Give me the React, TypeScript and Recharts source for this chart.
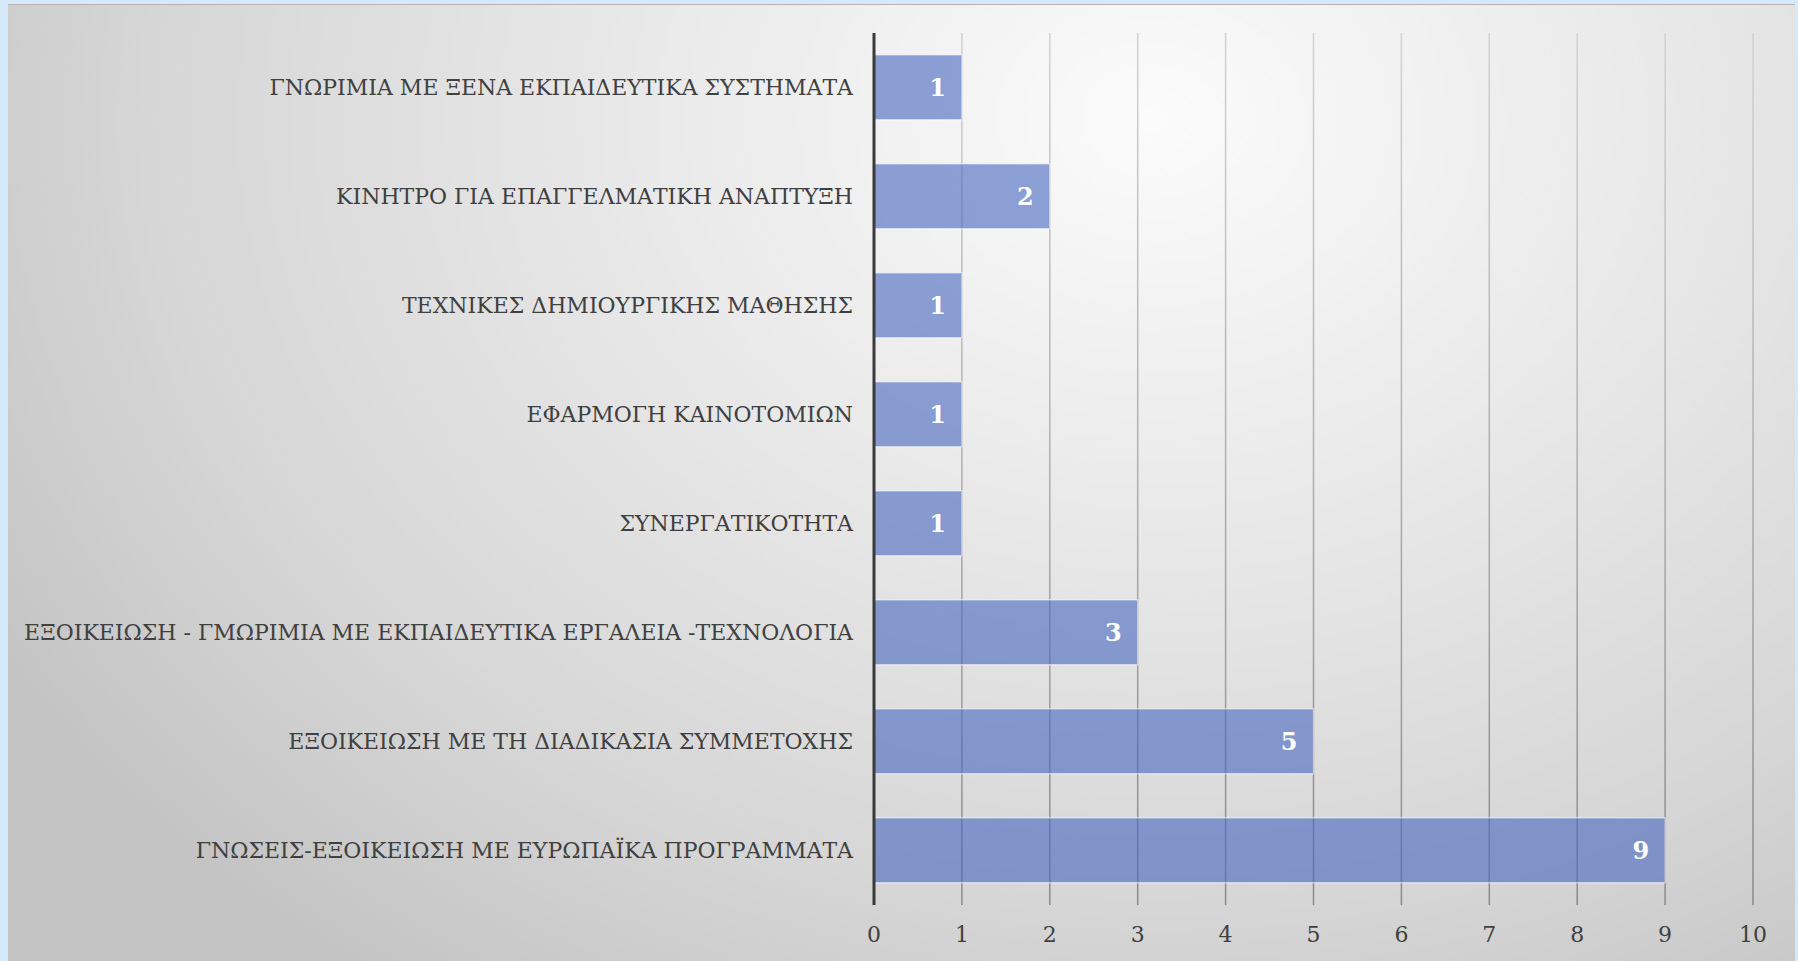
import { BarChart, Bar, XAxis, YAxis, CartesianGrid, LabelList } from 'recharts'

// categories, top to bottom
const categories = [
  'ΓΝΩΡΙΜΙΑ ΜΕ ΞΕΝΑ ΕΚΠΑΙΔΕΥΤΙΚΑ ΣΥΣΤΗΜΑΤΑ',
  'ΚΙΝΗΤΡΟ ΓΙΑ ΕΠΑΓΓΕΛΜΑΤΙΚΗ ΑΝΑΠΤΥΞΗ',
  'ΤΕΧΝΙΚΕΣ ΔΗΜΙΟΥΡΓΙΚΗΣ ΜΑΘΗΣΗΣ',
  'ΕΦΑΡΜΟΓΗ ΚΑΙΝΟΤΟΜΙΩΝ',
  'ΣΥΝΕΡΓΑΤΙΚΟΤΗΤΑ',
  'ΕΞΟΙΚΕΙΩΣΗ - ΓΜΩΡΙΜΙΑ ΜΕ ΕΚΠΑΙΔΕΥΤΙΚΑ ΕΡΓΑΛΕΙΑ -ΤΕΧΝΟΛΟΓΙΑ',
  'ΕΞΟΙΚΕΙΩΣΗ ΜΕ ΤΗ ΔΙΑΔΙΚΑΣΙΑ ΣΥΜΜΕΤΟΧΗΣ',
  'ΓΝΩΣΕΙΣ-ΕΞΟΙΚΕΙΩΣΗ ΜΕ ΕΥΡΩΠΑΪΚΑ ΠΡΟΓΡΑΜΜΑΤΑ',
]
const counts = [1, 2, 1, 1, 1, 3, 5, 9]
const xTicks = [0, 1, 2, 3, 4, 5, 6, 7, 8, 9, 10]

const data = categories.map((name, i) => ({ name, value: counts[i] }))

const FONT = '"DejaVu Serif", "Liberation Serif", serif'
const textColor = '#404040'

export default function App() {
  return (
    <div
      style={{
        position: 'absolute',
        left: 0,
        top: 0,
        width: 1798,
        height: 961,
        background: '#d5e9fb',
        overflow: 'hidden',
      }}
    >
      {/* gray slide panel with radial light */}
      <div
        style={{
          position: 'absolute',
          left: 8,
          top: 4,
          width: 1787,
          height: 957,
          borderTop: '1px solid #b4b4b4',
          background:
            'radial-gradient(ellipse 75% 110% at 64% 12%, #fbfbfb 0%, #e8e8e8 40%, #d6d6d6 75%, #c4c4c4 100%)',
        }}
      />
      <div style={{ position: 'absolute', left: 0, top: 0 }}>
        <BarChart
          width={1798}
          height={961}
          data={data}
          layout="vertical"
          barCategoryGap="20%"
          margin={{ top: 33, right: 45, bottom: 26, left: 0 }}
        >
          <defs>
            <linearGradient id="gridGrad" gradientUnits="userSpaceOnUse" x1="0" y1="33" x2="0" y2="905">
              <stop offset="0%" stopColor="#d2d2d2" />
              <stop offset="100%" stopColor="#8a8a8a" />
            </linearGradient>
          </defs>
          <CartesianGrid horizontal={false} stroke="url(#gridGrad)" strokeWidth={1.5} />
          <XAxis
            type="number"
            domain={[0, 10]}
            ticks={xTicks}
            axisLine={false}
            tickLine={false}
            tickSize={0}
            tickMargin={21}
            tick={{ fontSize: 22, fill: textColor, fontFamily: FONT }}
          />
          <YAxis
            type="category"
            dataKey="name"
            width={874}
            axisLine={{ stroke: '#3a3a3a', strokeWidth: 3 }}
            tickLine={false}
            tickSize={0}
            tickMargin={21}
            interval={0}
            tick={{ fontSize: 22, fill: textColor, fontFamily: FONT }}
          />
          <Bar
            dataKey="value"
            fill="#4a69c0"
            fillOpacity={0.61}
            stroke="#ffffff"
            strokeOpacity={0.55}
            strokeWidth={1.5}
            isAnimationActive={false}
          >
            <LabelList
              dataKey="value"
              position="insideRight"
              offset={16}
              fill="#ffffff"
              fontSize={24}
              fontWeight="bold"
              fontFamily={FONT}
            />
          </Bar>
        </BarChart>
      </div>
    </div>
  )
}
